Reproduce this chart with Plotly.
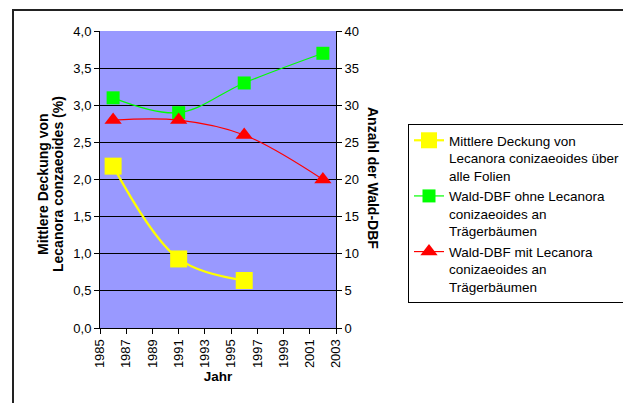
import plotly.graph_objects as go

# Survey data
years_cover = [1986, 1991, 1996]
mean_cover = [2.18, 0.93, 0.64]          # mittlere Deckung (%)

years_plots = [1986, 1991, 1996, 2002]
plots_without = [31, 29, 33, 37]         # Wald-DBF ohne L. conizaeoides
plots_with = [28, 28, 26, 20]            # Wald-DBF mit L. conizaeoides

x_ticks = list(range(1985, 2004, 2))
left_ticks = [i * 0.5 for i in range(9)]
right_ticks = list(range(0, 41, 5))

W, H = 623, 403
ML, MR, MT, MB = 100, 287, 31, 75
FONT = "Liberation Sans, Arial, sans-serif"


def px_x(p):
    return (p - ML) / (W - ML - MR)


def px_y(p):
    return 1 - (p - MT) / (H - MT - MB)


fig = go.Figure()

fig.add_trace(go.Scatter(
    x=years_cover, y=mean_cover, mode="lines+markers",
    name="Mittlere Deckung von<br>Lecanora conizaeoides über<br>alle Folien",
    line=dict(color="#FFFF00", width=2.2, shape="spline", smoothing=1),
    marker=dict(symbol="square", size=17, color="#FFFF00"),
))
fig.add_trace(go.Scatter(
    x=years_plots, y=plots_without, mode="lines+markers", yaxis="y2",
    name="Wald-DBF ohne Lecanora<br>conizaeoides an<br>Trägerbäumen",
    line=dict(color="#00FF00", width=1.2, shape="spline", smoothing=1),
    marker=dict(symbol="square", size=13, color="#00FF00"),
))
fig.add_trace(go.Scatter(
    x=years_plots, y=plots_with, mode="lines+markers", yaxis="y2",
    name="Wald-DBF mit Lecanora<br>conizaeoides an<br>Trägerbäumen",
    line=dict(color="#FF0000", width=1.2, shape="spline", smoothing=1),
    marker=dict(symbol="triangle-up", size=15, color="#FF0000"),
))

tick_font = dict(family=FONT, size=13, color="#000000")
title_font = dict(family=FONT, size=14, color="#000000")

fig.update_layout(
    width=W, height=H,
    margin=dict(l=ML, r=MR, t=MT, b=MB),
    paper_bgcolor="#FFFFFF",
    plot_bgcolor="#9999FF",
    separators=", ",
    font=dict(family=FONT, size=13, color="#000000"),
    xaxis=dict(
        range=[1985, 2003], tickvals=x_ticks, ticktext=[str(t) for t in x_ticks],
        tickangle=-90, ticks="outside", ticklen=5, tickcolor="#000000",
        showline=True, linecolor="#000000", linewidth=1,
        showgrid=False, zeroline=False, tickfont=tick_font,
        title=dict(text="<b>Jahr</b>",
                   font=dict(family=FONT, size=13.5, color="#000000"),
                   standoff=4),
    ),
    yaxis=dict(
        range=[0, 4], tickvals=left_ticks, tickformat=".1f",
        ticks="outside", ticklen=5, tickcolor="#000000",
        showline=True, linecolor="#000000", linewidth=1,
        showgrid=True, gridcolor="#000000", gridwidth=1,
        zeroline=False, tickfont=tick_font,
    ),
    yaxis2=dict(
        range=[0, 40], tickvals=right_ticks, overlaying="y", side="right",
        ticks="outside", ticklen=5, tickcolor="#000000",
        showline=True, linecolor="#000000", linewidth=1,
        showgrid=False, zeroline=False, tickfont=tick_font,
    ),
    legend=dict(
        xref="container", yref="container",
        x=408 / W, y=1 - 124 / H, xanchor="left", yanchor="top",
        bgcolor="#FFFFFF", bordercolor="#000000", borderwidth=1,
        font=dict(family=FONT, size=13.5, color="#000000"),
        valign="top", tracegroupgap=0, itemwidth=30,
    ),
    showlegend=True,
)

# Axis titles (left title as two separately placed lines)
fig.add_annotation(
    x=px_x(43), y=px_y(184), xref="paper", yref="paper",
    text="<b>Mittlere Deckung von</b>",
    textangle=-90, showarrow=False, font=title_font,
    xanchor="center", yanchor="middle",
)
fig.add_annotation(
    x=px_x(58), y=px_y(184), xref="paper", yref="paper",
    text="<b>Lecanora conzaeoides (%)</b>",
    textangle=-90, showarrow=False, font=title_font,
    xanchor="center", yanchor="middle",
)
fig.add_annotation(
    x=px_x(373), y=px_y(178), xref="paper", yref="paper",
    text="<b>Anzahl der Wald-DBF</b>",
    textangle=90, showarrow=False, font=title_font,
    xanchor="center", yanchor="middle",
)

# Outer chart frame
fig.add_shape(
    type="rect", xref="paper", yref="paper",
    x0=px_x(13), x1=px_x(W + 10), y0=px_y(H + 10), y1=px_y(10),
    line=dict(color="#222222", width=2), fillcolor="rgba(0,0,0,0)",
    layer="below",
)

fig.write_html("out.html")
